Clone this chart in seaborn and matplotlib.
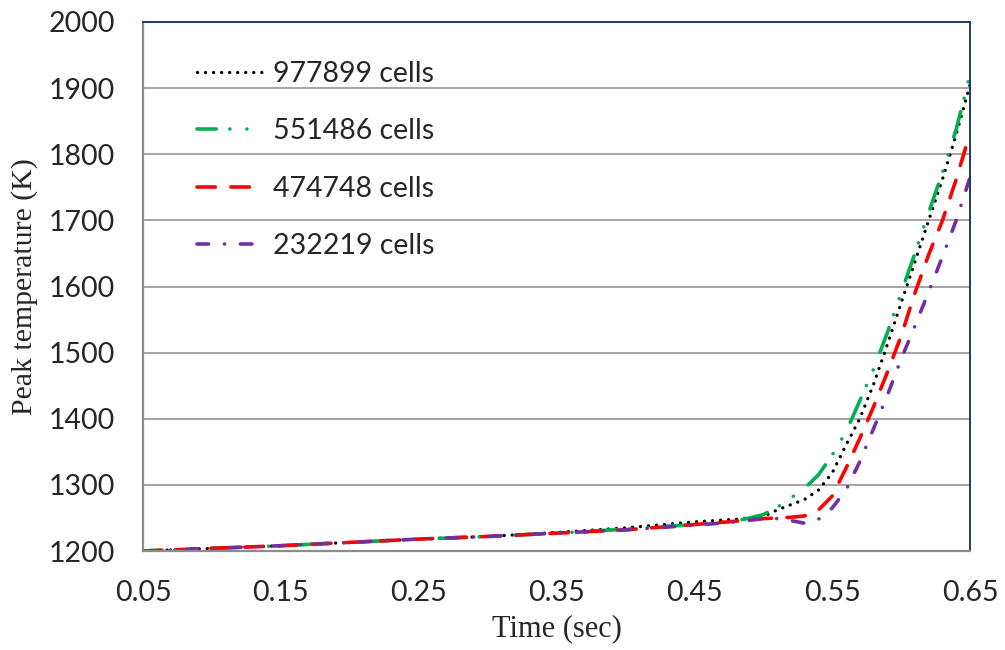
import matplotlib
matplotlib.use("Agg")
import matplotlib.pyplot as plt
import seaborn as sns
import numpy as np

# ---- data ----
times = [0.05, 0.10, 0.15, 0.20, 0.25, 0.30, 0.35, 0.40, 0.45, 0.48, 0.50,
         0.51, 0.52, 0.53, 0.54, 0.55, 0.56, 0.57, 0.58, 0.59, 0.60, 0.61,
         0.62, 0.63, 0.64, 0.65]
cells_977899 = [1200, 1204, 1208, 1213, 1218, 1222, 1228, 1235, 1244, 1248, 1252,
                1262, 1270, 1278, 1292, 1318, 1360, 1400, 1452, 1512, 1575, 1637,
                1700, 1762, 1830, 1905]
cells_551486 = [1200, 1204, 1208, 1213, 1218, 1222, 1227, 1233, 1240, 1245, 1255,
                1266, 1280, 1295, 1315, 1345, 1380, 1427, 1475, 1530, 1590, 1650,
                1712, 1772, 1838, 1920]
cells_474748 = [1200, 1204, 1208, 1213, 1218, 1222, 1227, 1232, 1240, 1245, 1249,
                1250, 1251, 1253, 1262, 1283, 1325, 1370, 1418, 1470, 1525, 1590,
                1648, 1700, 1762, 1832]
cells_232219 = [1200, 1204, 1208, 1213, 1218, 1222, 1227, 1232, 1239, 1244, 1249,
                1249, 1246, 1242, 1248, 1265, 1292, 1335, 1385, 1435, 1490, 1540,
                1592, 1645, 1700, 1765]
series_labels = ["977899 cells", "551486 cells", "474748 cells", "232219 cells"]
x_ticks = [0.05, 0.15, 0.25, 0.35, 0.45, 0.55, 0.65]
y_ticks = [1200, 1300, 1400, 1500, 1600, 1700, 1800, 1900, 2000]

sns.set_style("white")
plt.rcParams["font.family"] = ["Lato", "DejaVu Sans"]

fig = plt.figure(figsize=(10.05, 6.5), dpi=100)
ax = fig.add_axes([143 / 1005, 1 - 551 / 650, (970 - 143) / 1005, (551 - 22) / 650])

styles = [
    dict(color="black", lw=2.4, ls=(0, (0.01, 2.4))),
    dict(color="#00B050", lw=2.6, ls=(2.0, (7.3, 3.8, 0.01, 4.7, 0.01, 5.2))),
    dict(color="#FF0000", lw=2.6, ls=(0, (5.1, 4.3))),
    dict(color="#7030A0", lw=2.6, ls=(0, (3.2, 4.4, 0.01, 4.4))),
]
all_vals = [cells_977899, cells_551486, cells_474748, cells_232219]
for vals, lab, st in zip(all_vals, series_labels, styles):
    sns.lineplot(x=times, y=vals, ax=ax, color=st["color"], linewidth=st["lw"],
                 linestyle=st["ls"], dash_capstyle="round", label=lab,
                 legend=False)

ax.set_xlim(0.05, 0.65)
ax.set_ylim(1200, 2000)
ax.set_xticks(x_ticks)
ax.set_xticklabels([f"{v:.2f}" for v in x_ticks])
ax.set_yticks(y_ticks)
ax.set_yticklabels([str(v) for v in y_ticks])

ax.yaxis.grid(True, color="#8c8c8c", linewidth=1.1)
ax.xaxis.grid(False)
ax.set_axisbelow(True)

for s in ["left", "bottom"]:
    ax.spines[s].set_color("#8c8c8c")
    ax.spines[s].set_linewidth(1.6)
for s in ["top", "right"]:
    ax.spines[s].set_color("#1F3864")
    ax.spines[s].set_linewidth(1.4)

ax.tick_params(axis="x", direction="in", length=6, width=1.5, color="#8c8c8c",
               labelsize=20.5, pad=21)
ax.tick_params(axis="y", length=0, labelsize=20.5, pad=20)

ax.set_xlabel("Time (sec)", fontfamily="Liberation Serif", fontsize=22, labelpad=6)
ax.set_ylabel("Peak temperature (K)", fontfamily="Liberation Serif", fontsize=21.5, labelpad=8)

handles = ax.get_lines()[:4]
leg = ax.legend(handles, series_labels, loc="upper left",
                bbox_to_anchor=(197 / 1005, 1 - 61 / 650), bbox_transform=fig.transFigure,
                frameon=False, fontsize=20.5, handlelength=2.3, handletextpad=0.38,
                labelspacing=1.10, borderpad=0, borderaxespad=0)

fig.savefig("out.png", dpi=100)
